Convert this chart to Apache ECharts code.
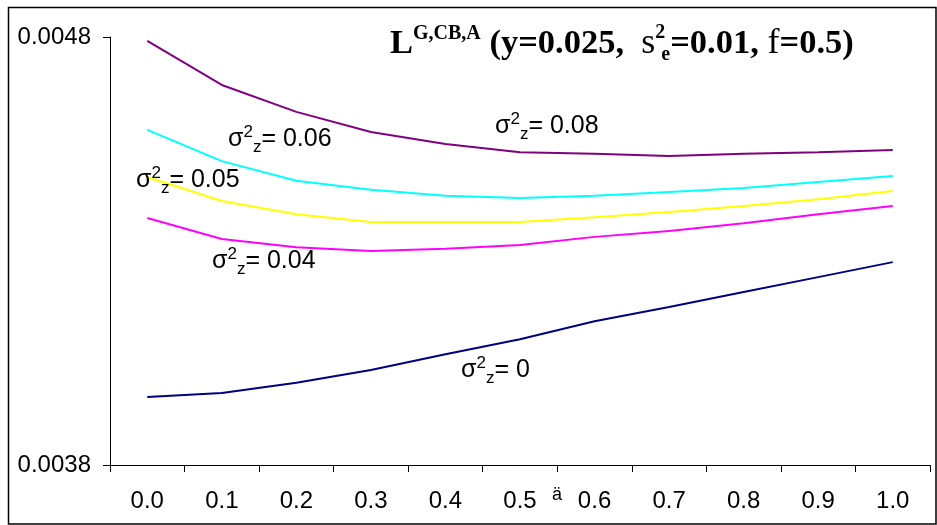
<!DOCTYPE html>
<html>
<head>
<meta charset="utf-8">
<script src="https://cdn.jsdelivr.net/npm/echarts@6/dist/echarts.min.js"></script>
<style>html,body{margin:0;padding:0;background:#fff}#c{width:937px;height:525px}</style>
</head>
<body>
<div id="c"></div>
<script>
const categories = ['0.0','0.1','0.2','0.3','0.4','0.5','0.6','0.7','0.8','0.9','1.0'];
const yTicks = [0.0038, 0.0048];
const sigma008 = [0.004791,0.004688,0.004625,0.004578,0.004550,0.004531,0.004527,0.004522,0.004527,0.004531,0.004536];
const sigma006 = [0.004583,0.004510,0.004464,0.004443,0.004429,0.004424,0.004429,0.004438,0.004447,0.004461,0.004475];
const sigma005 = [0.004473,0.004417,0.004386,0.004368,0.004368,0.004368,0.004379,0.004391,0.004405,0.004421,0.004440];
const sigma004 = [0.004377,0.004328,0.004309,0.004300,0.004305,0.004314,0.004333,0.004347,0.004365,0.004386,0.004405];
const sigma000 = [0.003959,0.003968,0.003992,0.004022,0.004059,0.004094,0.004136,0.004169,0.004204,0.004239,0.004274];

const chart = echarts.init(document.getElementById('c'));
const F = 'Liberation Sans, Arial, sans-serif';
const labelRich = {
  s: {fontFamily: F, fontSize: 25, color: '#000', lineHeight: 34, verticalAlign: 'middle'},
  sup: {fontFamily: F, fontSize: 17, color: '#000', lineHeight: 17, verticalAlign: 'top', padding:[2,0,0,0]},
  sub: {fontFamily: F, fontSize: 17, color: '#000', lineHeight: 17, verticalAlign: 'bottom'},
  n: {fontFamily: F, fontSize: 25, color: '#000', lineHeight: 34, verticalAlign: 'middle'}
};
function sigLabel(x, y, val) {
  return {
    type: 'text', x: x, y: y, z: 10,
    style: {
      text: '{s|σ}{sup|2}{sub|z}{n|= ' + val + '}',
      rich: labelRich, verticalAlign: 'middle', align: 'left'
    }
  };
}
const TF = 'Liberation Serif, Times New Roman, serif';
const titleRich = {
  b: {fontFamily: TF, fontSize: 34.5, fontWeight: 'bold', color: '#000', lineHeight: 42, verticalAlign: 'middle'},
  sup: {fontFamily: TF, fontSize: 20, fontWeight: 'bold', color: '#000', lineHeight: 20, verticalAlign: 'top', padding: [1,0,0,0]},
  sup2: {fontFamily: TF, fontSize: 20, fontWeight: 'bold', color: '#000', lineHeight: 20, verticalAlign: 'top', width: 6},
  sub: {fontFamily: TF, fontSize: 20, fontWeight: 'bold', color: '#000', lineHeight: 20, verticalAlign: 'bottom'},
  g: {fontFamily: TF, fontSize: 36, color: '#000', lineHeight: 42, verticalAlign: 'middle'}
};

function line(name, data, color) {
  return {
    name: name, type: 'line', data: data, symbol: 'none',
    lineStyle: {color: color, width: 2}, itemStyle: {color: color}, silent: true, animation: false
  };
}

chart.setOption({
  animation: false,
  backgroundColor: '#fff',
  grid: {left: 110, right: 7, top: 37, bottom: 60},
  xAxis: {
    type: 'category', data: categories, boundaryGap: true,
    axisLine: {lineStyle: {color: '#000', width: 1}},
    axisTick: {show: true, alignWithLabel: false, interval: 0, length: 7, lineStyle: {color: '#000'}},
    axisLabel: {interval: 0, color: '#000', fontFamily: F, fontSize: 24, margin: 24},
    splitLine: {show: false}
  },
  yAxis: {
    type: 'value', min: 0.0038, max: 0.0048,
    axisLine: {show: true, lineStyle: {color: '#000', width: 1}},
    axisTick: {show: true, length: 7, customValues: yTicks, lineStyle: {color: '#000'}},
    axisLabel: {customValues: yTicks, color: '#000', fontFamily: F, fontSize: 24, margin: 19,
      formatter: v => v.toFixed(4)},
    splitLine: {show: false}
  },
  series: [
    line('σ²z= 0.08', sigma008, '#800080'),
    line('σ²z= 0.06', sigma006, '#00FFFF'),
    line('σ²z= 0.05', sigma005, '#FFFF00'),
    line('σ²z= 0.04', sigma004, '#FF00FF'),
    line('σ²z= 0', sigma000, '#000080')
  ],
  graphic: [
    {type: 'rect', shape: {x: 8.5, y: 7.5, width: 927.5, height: 516.5}, style: {fill: 'none', stroke: '#000', lineWidth: 1.5}, z: 0, silent: true},
    {type: 'text', x: 390, y: 44, z: 10, style: {
      text: '{b|L}{sup|G,CB,A}{b| (y=0.025,  }{g|s}{sup2|2}{sub|e}{b|=0.01, }{g|f}{b|=0.5)}',
      rich: titleRich, verticalAlign: 'middle', align: 'left'}},
    sigLabel(495, 126, '0.08'),
    sigLabel(228, 139, '0.06'),
    sigLabel(136, 180, '0.05'),
    sigLabel(212, 261, '0.04'),
    sigLabel(461, 370, '0'),
    {type: 'text', x: 557, y: 495, z: 10, style: {text: 'ä', fontFamily: F, fontSize: 18, fill: '#000', align: 'center', verticalAlign: 'middle'}}
  ]
});
</script>
</body>
</html>
